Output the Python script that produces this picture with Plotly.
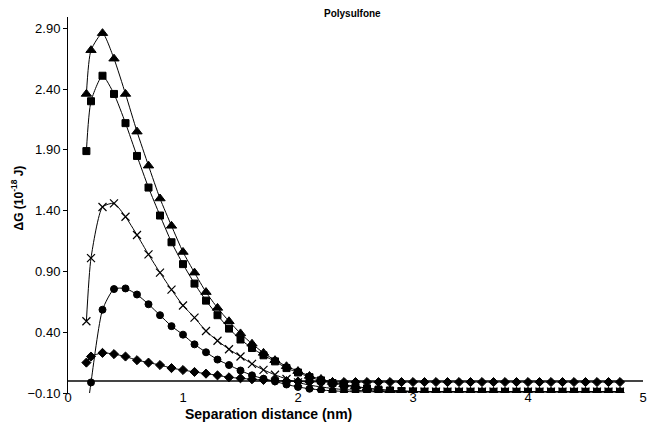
import plotly.graph_objects as go

# Separation distance (nm)
sep_nm = [0.16, 0.2, 0.3, 0.4, 0.5, 0.6, 0.7, 0.8, 0.9, 1.0, 1.1, 1.2, 1.3, 1.4, 1.5,
          1.6, 1.7, 1.8, 1.9, 2.0, 2.1, 2.2, 2.3, 2.4, 2.5, 2.6, 2.7, 2.8, 2.9, 3.0,
          3.1, 3.2, 3.3, 3.4, 3.5, 3.6, 3.7, 3.8, 3.9, 4.0, 4.1, 4.2, 4.3, 4.4, 4.5,
          4.6, 4.7, 4.8]

# ΔG (1e-18 J) per series
triangles = [2.36, 2.72, 2.86, 2.65, 2.36, 2.05, 1.77, 1.50, 1.275, 1.06, 0.89, 0.73,
             0.60, 0.49, 0.39, 0.305, 0.23, 0.17, 0.12, 0.08, 0.04, 0.015, -0.01, -0.03,
             -0.045, -0.06, -0.07, -0.078, -0.083, -0.087, -0.089, -0.09, -0.09, -0.09,
             -0.09, -0.09, -0.09, -0.09, -0.09, -0.09, -0.09, -0.09, -0.09, -0.09, -0.09,
             -0.09, -0.09, -0.09]
squares = [1.89, 2.30, 2.51, 2.36, 2.12, 1.85, 1.59, 1.36, 1.14, 0.96, 0.80, 0.66,
           0.54, 0.43, 0.34, 0.27, 0.21, 0.16, 0.105, 0.069, 0.03, 0.004, -0.018, -0.035,
           -0.05, -0.062, -0.072, -0.079, -0.084, -0.087, -0.089, -0.09, -0.09, -0.09,
           -0.09, -0.09, -0.09, -0.09, -0.09, -0.09, -0.09, -0.09, -0.09, -0.09, -0.09,
           -0.09, -0.09, -0.09]
crosses = [0.49, 1.01, 1.43, 1.46, 1.35, 1.20, 1.04, 0.89, 0.75, 0.62, 0.52, 0.41,
           0.33, 0.26, 0.20, 0.14, 0.09, 0.05, 0.015, -0.013, -0.035, -0.05, -0.063, -0.072,
           -0.078, -0.083, -0.086, -0.088, -0.089, -0.089, -0.089, -0.089, -0.089, -0.089,
           -0.089, -0.089, -0.089, -0.089, -0.089, -0.089, -0.089, -0.089, -0.089, -0.089,
           -0.089, -0.089, -0.089, -0.089]
circles = [-0.30, -0.013, 0.585, 0.755, 0.76, 0.71, 0.63, 0.54, 0.45, 0.38, 0.30, 0.235,
           0.175, 0.13, 0.085, 0.045, 0.018, -0.005, -0.03, -0.05, -0.065, -0.075, -0.082,
           -0.087, -0.09, -0.09, -0.09, -0.09, -0.09, -0.09, -0.09, -0.09, -0.09, -0.09,
           -0.09, -0.09, -0.09, -0.09, -0.09, -0.09, -0.09, -0.09, -0.09, -0.09, -0.09,
           -0.09, -0.09, -0.09]
diamonds = [0.15, 0.20, 0.23, 0.22, 0.20, 0.17, 0.15, 0.13, 0.105, 0.089, 0.073, 0.059,
            0.045, 0.029, 0.021, 0.013, 0.007, 0.002, -0.002, -0.005, -0.008, -0.009, -0.01,
            -0.01, -0.01, -0.01, -0.01, -0.01, -0.01, -0.01, -0.01, -0.01, -0.01, -0.01,
            -0.01, -0.01, -0.01, -0.01, -0.01, -0.01, -0.01, -0.01, -0.01, -0.01, -0.01,
            -0.01, -0.01, -0.01]

y_ticks = [-0.10, 0.40, 0.90, 1.40, 1.90, 2.40, 2.90]
x_ticks = [0, 1, 2, 3, 4, 5]

FONT = "Liberation Sans, Arial, sans-serif"

fig = go.Figure()
series = [
    (triangles, "triangle-up", 9, 1),
    (squares, "square", 7, 1),
    (crosses, "x-thin", 8, 1.2),
    (circles, "circle", 7, 1),
    (diamonds, "diamond", 7, 1),
]
for vals, sym, size, lw in series:
    fig.add_trace(go.Scatter(
        x=sep_nm, y=vals, mode="lines+markers",
        line=dict(color="black", width=1, shape="spline", smoothing=0.6),
        marker=dict(symbol=sym, size=size, color="black",
                    line=dict(color="black", width=lw)),
        showlegend=False,
    ))

fig.update_layout(
    width=647, height=425,
    margin=dict(l=68, r=4, t=17, b=32, autoexpand=False),
    paper_bgcolor="white", plot_bgcolor="white",
    font=dict(family=FONT, color="black"),
    xaxis=dict(range=[0, 5], tickvals=x_ticks, ticks="", showline=False,
               showgrid=False, zeroline=False, tickfont=dict(size=13),
               automargin=False, ticklabelstandoff=-5,
               ticklabeloverflow="allow"),
    yaxis=dict(range=[-0.1, 2.993], tickvals=y_ticks, tickformat=".2f",
               ticks="outside", ticklen=4, tickcolor="black",
               showline=True, linecolor="black", linewidth=1,
               showgrid=False, zeroline=True, zerolinecolor="#444",
               zerolinewidth=1.5, tickfont=dict(size=13), automargin=False),
    annotations=[
        dict(text="<b>Polysulfone</b>", x=0.494, y=1.008, xref="paper",
             yref="paper", xanchor="center", yanchor="middle",
             showarrow=False, font=dict(size=10)),
        dict(text="<b>Separation distance (nm)</b>", x=0.348, y=-0.056,
             xref="paper", yref="paper", xanchor="center", yanchor="middle",
             showarrow=False, font=dict(size=14)),
        dict(text="<b>ΔG (10<sup>-18</sup> J)</b>", x=-0.087, y=0.52,
             xref="paper", yref="paper", xanchor="center", yanchor="middle",
             textangle=-90, showarrow=False, font=dict(size=12)),
    ],
)

# remove the default page margin so the 647x425 figure fills the window exactly
fig.write_html(
    "out.html",
    config={"displayModeBar": False},
    post_script="document.body.style.margin='0';document.body.style.overflow='hidden';",
)
